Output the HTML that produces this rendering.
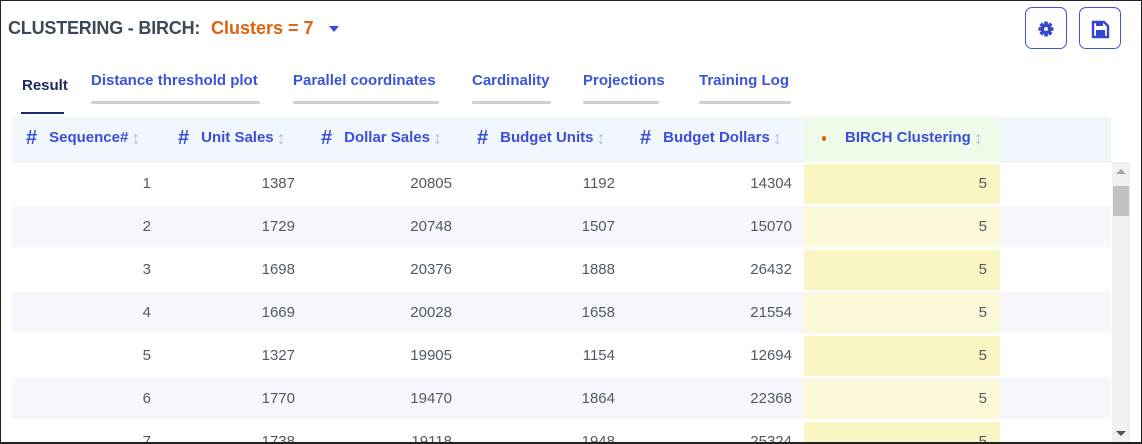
<!DOCTYPE html>
<html><head><meta charset="utf-8"><style>
*{box-sizing:border-box;margin:0;padding:0}
html,body{width:1142px;height:444px;overflow:hidden}
body{background:#fff;font-family:"Liberation Sans",Arial,sans-serif}
#wrap{position:relative;width:1142px;height:444px;overflow:hidden}
.frame{position:absolute;left:0;top:0;width:1142px;height:444px;border:1px solid #222;border-bottom:2px solid #222;z-index:5;pointer-events:none}
.abs{position:absolute}
.title{left:8px;top:18px;font-size:18px;font-weight:bold;color:#3c4a58;letter-spacing:-0.2px}
.clus{left:211px;top:18px;font-size:18px;font-weight:bold;color:#e0620f}
.caret{left:329px;top:26px;width:0;height:0;border-left:5px solid transparent;border-right:5px solid transparent;border-top:6px solid #3b4fd6}
.btn{top:7px;width:42px;height:42px;border:1.5px solid #3b55d9;border-radius:7px}
.tab{top:72px;font-size:15px;font-weight:bold;color:#3b55d9;white-space:nowrap}
.tabline{top:101px;height:3px;background:#cfcfcf;border-radius:2px}
.thead{left:12px;top:117px;width:1099px;height:45px;background:#f2f7fd;border-bottom:1px solid #e4ebf3}
.hc{top:128px;font-size:15px;font-weight:bold;color:#3b4fd6;white-space:nowrap;line-height:20px}
.hash{font-size:20px;margin-right:12px;display:inline-block;vertical-align:top}
.sort{color:#b3bde8;font-weight:normal;font-size:18px;margin-left:3px;display:inline-block;vertical-align:top;line-height:20px}
.row{left:12px;width:1099px}
.cell{font-size:15px;color:#505a64;text-align:right}
.y{left:804px;width:196px;height:40px}
</style></head><body><div id="wrap">
<div class="frame"></div>
<div class="abs title">CLUSTERING - BIRCH:</div>
<div class="abs clus">Clusters = 7</div>
<div class="abs caret"></div>
<div class="abs btn" style="left:1025px"><svg width="42" height="42" viewBox="0 0 42 42" style="position:absolute;left:-1.5px;top:-1.5px"><g fill="#3445d0" transform="translate(21,22)"><circle r="5"/><rect x="-1.8" y="-7.5" width="3.6" height="15"/><rect x="-7.5" y="-1.8" width="15" height="3.6"/><rect x="-1.8" y="-7.5" width="3.6" height="15" transform="rotate(45)"/><rect x="-1.8" y="-7.5" width="3.6" height="15" transform="rotate(-45)"/><circle r="2" fill="#fff"/></g></svg></div>
<div class="abs btn" style="left:1079px"><svg width="42" height="42" viewBox="0 0 42 42" style="position:absolute;left:-1.5px;top:-1.5px"><path d="M14 15h11l4 4v11h-15z" fill="none" stroke="#3445d0" stroke-width="2.4"/><rect x="17" y="15" width="7" height="4" fill="#3445d0"/><rect x="17" y="23" width="9" height="6" fill="#3445d0"/></svg></div>
<div class="abs tab" style="left:22px;top:77px;color:#1d2a5c">Result</div>
<div class="abs" style="left:21px;top:112px;width:43px;height:2px;background:#1d2a6e"></div>
<div class="abs tab" style="left:91px">Distance threshold plot</div><div class="abs tabline" style="left:91px;width:169px"></div>
<div class="abs tab" style="left:293px">Parallel coordinates</div><div class="abs tabline" style="left:293px;width:146px"></div>
<div class="abs tab" style="left:472px">Cardinality</div><div class="abs tabline" style="left:472px;width:79px"></div>
<div class="abs tab" style="left:583px">Projections</div><div class="abs tabline" style="left:583px;width:76px"></div>
<div class="abs tab" style="left:699px">Training Log</div><div class="abs tabline" style="left:699px;width:92px"></div>
<div class="abs thead"></div>
<div class="abs" style="left:804px;top:117px;width:196px;height:45px;background:#eefbe9"></div>
<div class="abs hc" style="left:26px"><span class="hash">#</span>Sequence#<span class="sort">↕</span></div>
<div class="abs hc" style="left:178px"><span class="hash">#</span>Unit Sales<span class="sort">↕</span></div>
<div class="abs hc" style="left:321px"><span class="hash">#</span>Dollar Sales<span class="sort">↕</span></div>
<div class="abs hc" style="left:477px"><span class="hash">#</span>Budget Units<span class="sort">↕</span></div>
<div class="abs hc" style="left:640px"><span class="hash">#</span>Budget Dollars<span class="sort">↕</span></div>
<div class="abs" style="left:822px;top:136px;width:4px;height:5px;border-radius:2px;background:#e0620f"></div>
<div class="abs hc" style="left:845px">BIRCH Clustering<span class="sort">↕</span></div>
<div id="rows"></div>
<div class="abs" style="left:1112px;top:162px;width:18px;height:282px;background:#f1f1f1"></div>
<div class="abs" style="left:1116px;top:169px;width:0;height:0;border-left:5px solid transparent;border-right:5px solid transparent;border-bottom:5px solid #a3a3a3"></div>
<div class="abs" style="left:1113px;top:186px;width:16px;height:30px;background:#c1c1c1"></div>
<div class="abs" style="left:1116px;top:431px;width:0;height:0;border-left:5px solid transparent;border-right:5px solid transparent;border-top:5px solid #505050"></div>
</div>
<script>
var d=[[1,1387,20805,1192,14304],[2,1729,20748,1507,15070],[3,1698,20376,1888,26432],[4,1669,20028,1658,21554],[5,1327,19905,1154,12694],[6,1770,19470,1864,22368],[7,1738,19118,1948,25324]];
var rights=[151,295,452,615,792,987],h='';
d.forEach(function(r,i){var t=163+43*i;
h+='<div class="abs row" style="top:'+t+'px;height:41px;background:'+(i%2?'#f5f7fc':'#fff')+'"></div>';
h+='<div class="abs y" style="top:'+(t+1)+'px;background:'+(i%2?'#fcf9d9':'#faf6c3')+'"></div>';
r.concat([5]).forEach(function(v,j){h+='<div class="abs cell" style="right:'+(1142-rights[j])+'px;top:'+(t+12)+'px">'+v+'</div>';});});
document.getElementById('rows').innerHTML=h;
</script>
</body></html>
